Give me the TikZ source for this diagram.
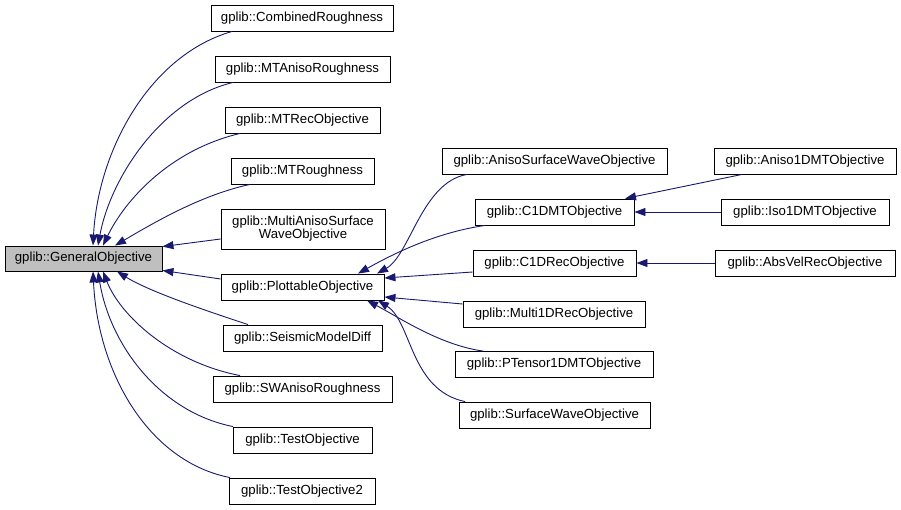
\documentclass[tikz,border=0pt]{standalone}
\usepackage{fontspec}
\setmainfont{Liberation Sans}
\usetikzlibrary{arrows.meta}
\definecolor{edgeblue}{HTML}{191970}
\definecolor{genfill}{HTML}{BFBFBF}
\tikzset{
  cls/.style={draw=black, line width=0.9pt, fill=white, inner sep=0pt, minimum height=26pt,
    font=\fontsize{13.2}{15}\selectfont, align=center},
  edge/.style={draw=edgeblue, line width=0.9pt, {Triangle[length=11pt,width=8pt]}-},
}
\begin{document}
\begin{tikzpicture}[x=1pt,y=-1pt]
\useasboundingbox (0,0) rectangle (901,509);
% left column
\node[cls, fill=genfill, minimum width=157pt, minimum height=25pt] (gen) at (83.5,258.5) {gplib::GeneralObjective};
\node[cls, minimum width=182pt] (comb) at (302,18) {gplib::CombinedRoughness};
\node[cls, minimum width=175pt] (mtaniso) at (302.5,69) {gplib::MTAnisoRoughness};
\node[cls, minimum width=155pt] (mtrec) at (302.5,120) {gplib::MTRecObjective};
\node[cls, minimum width=143pt] (mtrough) at (302.5,171) {gplib::MTRoughness};
\node[cls, minimum width=164pt, minimum height=40pt] (multianiso) at (303,229) {gplib::MultiAnisoSurface\\[-2pt]WaveObjective};
\node[cls, minimum width=163pt] (plot) at (302.5,287) {gplib::PlottableObjective};
\node[cls, minimum width=159pt] (seis) at (302.5,338) {gplib::SeismicModelDiff};
\node[cls, minimum width=179pt] (swaniso) at (302.5,389) {gplib::SWAnisoRoughness};
\node[cls, minimum width=139pt] (test) at (302.5,440) {gplib::TestObjective};
\node[cls, minimum width=146pt] (testtwo) at (302,491) {gplib::TestObjective2};
% middle column
\node[cls, minimum width=225pt] (anisosw) at (554.5,161) {gplib::AnisoSurfaceWaveObjective};
\node[cls, minimum width=159pt] (conedmt) at (554.5,212) {gplib::C1DMTObjective};
\node[cls, minimum width=163pt] (conedrec) at (554.5,263) {gplib::C1DRecObjective};
\node[cls, minimum width=182pt] (multionedrec) at (554,314) {gplib::Multi1DRecObjective};
\node[cls, minimum width=198pt] (ptensor) at (554,364.5) {gplib::PTensor1DMTObjective};
\node[cls, minimum width=191pt] (surfw) at (554.5,415) {gplib::SurfaceWaveObjective};
% right column
\node[cls, minimum width=182pt] (anisoonedmt) at (805,161) {gplib::Aniso1DMTObjective};
\node[cls, minimum width=168pt] (isoonedmt) at (805,212) {gplib::Iso1DMTObjective};
\node[cls, minimum width=180pt] (absvel) at (805,263) {gplib::AbsVelRecObjective};
% anchor coordinates (yshift is on the canvas: positive = up)
\coordinate (g1) at ([xshift=9.5pt]gen.north);
\coordinate (g2) at ([xshift=14.5pt]gen.north);
\coordinate (g3) at ([xshift=19.5pt]gen.north);
\coordinate (g4) at ([xshift=31.5pt]gen.north);
\coordinate (b1) at ([xshift=9.5pt]gen.south);
\coordinate (b2) at ([xshift=14.5pt]gen.south);
\coordinate (b3) at ([xshift=19.5pt]gen.south);
\coordinate (b4) at ([xshift=33.5pt]gen.south);
\coordinate (gr1) at ([yshift=-1pt]gen.north east);
\coordinate (gr2) at ([yshift=1pt]gen.south east);
\coordinate (p1) at ([xshift=55.5pt]plot.north);
\coordinate (p2) at ([xshift=74.5pt]plot.north);
\coordinate (p3) at ([yshift=9pt]plot.east);
\coordinate (p4) at ([yshift=-10pt]plot.east);
\coordinate (p5) at ([xshift=64.5pt]plot.south);
\coordinate (p6) at ([xshift=75.5pt]plot.south);
% edges to GeneralObjective
\draw[edge] (g1) .. controls (98,150) and (150,55) .. ([xshift=-70pt]comb.south);
\draw[edge] (g2) .. controls (110,180) and (160,100) .. ([xshift=-69.5pt]mtaniso.south);
\draw[edge] (g3) .. controls (125,200) and (170,150) .. ([xshift=-62.5pt]mtrec.south);
\draw[edge] (g4) .. controls (150,225) and (200,195) .. ([xshift=-52.5pt]mtrough.south);
\draw[edge] (gr1) -- ([yshift=-10pt]multianiso.west);
\draw[edge] (gr2) -- ([yshift=8pt]plot.west);
\draw[edge] (b4) .. controls (150,292) and (210,312) .. ([xshift=-54.5pt]seis.north);
\draw[edge] (b3) .. controls (120,315) and (170,362) .. ([xshift=-62.5pt]swaniso.north);
\draw[edge] (b2) .. controls (110,345) and (160,412) .. ([xshift=-69.5pt]test.north);
\draw[edge] (b1) .. controls (98,375) and (150,462) .. ([xshift=-72pt]testtwo.north);
% edges to PlottableObjective
\draw[edge] (p2) .. controls (410,255) and (422,182) .. ([xshift=-87.5pt]anisosw.south);
\draw[edge] (p1) .. controls (400,250) and (440,232) .. ([xshift=-69.5pt]conedmt.south);
\draw[edge] (p3) -- ([yshift=-9pt]conedrec.west);
\draw[edge] (p4) -- ([yshift=10pt]multionedrec.west);
\draw[edge] (p5) .. controls (400,318) and (440,345) .. ([xshift=-71pt]ptensor.north);
\draw[edge] (p6) .. controls (412,322) and (410,390) .. ([xshift=-89.5pt]surfw.north);
% right edges
\draw[edge] ([xshift=70.5pt]conedmt.north) -- ([xshift=-63pt]anisoonedmt.south);
\draw[edge] (conedmt.east) -- (isoonedmt.west);
\draw[edge] (conedrec.east) -- (absvel.west);
\end{tikzpicture}
\end{document}
